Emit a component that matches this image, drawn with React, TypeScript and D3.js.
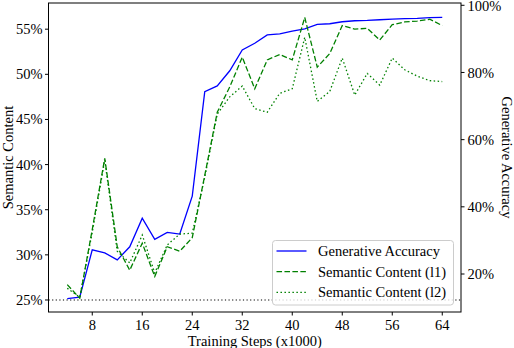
import React from 'react';
import { scaleLinear, line } from 'd3';

// training steps (x1000)
const steps = [4, 6, 8, 10, 12, 14, 16, 18, 20, 22, 24, 26, 28, 30, 32, 34, 36, 38, 40, 42, 44, 46, 48, 50, 52, 54, 56, 58, 60, 62, 64];

// right axis (%)
const generativeAccuracy = [12.7, 13.1, 27.2, 26.3, 24.2, 28.1, 36.6, 30.3, 32.4, 31.9, 43.2, 74.3, 76.0, 80.5, 86.7, 88.7, 91.2, 91.5, 92.3, 93.0, 94.3, 94.5, 95.1, 95.4, 95.5, 95.7, 95.9, 96.0, 96.1, 96.3, 96.4];

// left axis (%)
const semanticL1 = [26.7, 25.2, 32.8, 40.7, 30.9, 28.3, 31.3, 27.6, 30.9, 30.4, 31.9, 38.8, 45.8, 48.6, 51.9, 48.4, 51.6, 52.2, 51.6, 56.3, 50.8, 52.3, 55.4, 55.0, 55.1, 53.8, 55.5, 55.8, 55.9, 56.1, 55.4];
const semanticL2 = [26.3, 25.3, 32.5, 40.5, 30.4, 29.1, 32.2, 28.0, 31.1, 32.3, 32.4, 38.6, 45.6, 47.5, 48.7, 46.2, 45.8, 47.9, 48.4, 54.1, 47.0, 48.1, 51.8, 47.7, 50.1, 48.8, 51.8, 50.5, 49.8, 49.3, 49.2];

const chanceLevel = 25;

const xTicks = [8, 16, 24, 32, 40, 48, 56, 64];
const leftTicks = [25, 30, 35, 40, 45, 50, 55];
const rightTicks = [20, 40, 60, 80, 100];

const legendLabels = ['Generative Accuracy', 'Semantic Content (l1)', 'Semantic Content (l2)'];

const width = 514;
const height = 348;
const left = 48.5;
const right = 461;
const top = 3;
const bottom = 312;

const font = '"Liberation Serif", "Times New Roman", serif';
const fs = 14.5;

const App = () => {
  const x = scaleLinear().domain([1, 67]).range([left, right]);
  const yL = scaleLinear().domain([23.67, 57.9]).range([bottom, top]);
  const yR = scaleLinear().domain([8.69, 100.68]).range([bottom, top]);

  const lineL = line<number>().x((_, i) => x(steps[i])).y(d => yL(d));
  const lineR = line<number>().x((_, i) => x(steps[i])).y(d => yR(d));

  const series = [
    { path: lineR(generativeAccuracy), color: '#0000ff', dash: undefined },
    { path: lineL(semanticL1), color: '#008000', dash: '5.55,2.4' },
    { path: lineL(semanticL2), color: '#008000', dash: '1.5,2.475' },
  ];

  const lg = { x: 272.5, y: 240.5, w: 181, h: 64.5 };

  return (
    <svg width={width} height={height} style={{ position: 'absolute', left: 0, top: 0, background: '#fff' }} fontFamily={font}>
      <line x1={left} x2={right} y1={yL(chanceLevel)} y2={yL(chanceLevel)} stroke="#000" strokeWidth={1.2} strokeDasharray="1.2,2.4" />
      {series.map((s, i) => (
        <path key={i} d={s.path || ''} fill="none" stroke={s.color} strokeWidth={1.3} strokeDasharray={s.dash} />
      ))}
      <rect x={left} y={top} width={right - left} height={bottom - top} fill="none" stroke="#000" strokeWidth={1} />

      {xTicks.map(t => (
        <g key={t}>
          <line x1={x(t)} x2={x(t)} y1={bottom} y2={bottom + 3.5} stroke="#000" />
          <text x={x(t)} y={329.5} textAnchor="middle" fontSize={fs}>{t}</text>
        </g>
      ))}
      {leftTicks.map(t => (
        <g key={t}>
          <line x1={left - 3.5} x2={left} y1={yL(t)} y2={yL(t)} stroke="#000" />
          <text x={left - 6} y={yL(t)} dy="0.34em" textAnchor="end" fontSize={fs}>{t}%</text>
        </g>
      ))}
      {rightTicks.map(t => (
        <g key={t}>
          <line x1={right} x2={right + 3.5} y1={yR(t)} y2={yR(t)} stroke="#000" />
          <text x={right + 6.5} y={yR(t)} dy="0.36em" textAnchor="start" fontSize={fs}>{t}%</text>
        </g>
      ))}

      <text x={(left + right) / 2} y={346} textAnchor="middle" fontSize={fs}>Training Steps (x1000)</text>
      <text transform={`translate(12.5,${(top + bottom) / 2}) rotate(-90)`} textAnchor="middle" fontSize={fs}>Semantic Content</text>
      <text transform={`translate(502,${(top + bottom) / 2}) rotate(90)`} textAnchor="middle" fontSize={fs}>Generative Accuracy</text>

      <rect x={lg.x} y={lg.y} width={lg.w} height={lg.h} rx={3} fill="#fff" fillOpacity={0.8} stroke="#cccccc" strokeWidth={1} />
      {series.map((s, i) => {
        const cy = 251 + i * 20.7;
        return (
          <g key={i}>
            <line x1={276.5} x2={306.5} y1={cy} y2={cy} stroke={s.color} strokeWidth={1.3} strokeDasharray={s.dash} />
            <text x={318} y={cy} dy="0.34em" fontSize={fs}>{legendLabels[i]}</text>
          </g>
        );
      })}
    </svg>
  );
};

export default App;
